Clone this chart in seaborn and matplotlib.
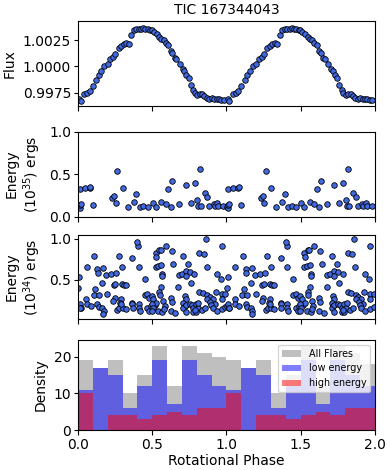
import numpy as np
import pandas as pd
import seaborn as sns
import matplotlib.pyplot as plt
from matplotlib.ticker import FormatStrFormatter

# phase-folded light curve, one rotation (repeated for the second one)
flux_phase = [0.009, 0.020, 0.043, 0.061, 0.079, 0.101, 0.122, 0.140, 0.155, 0.178,
              0.200, 0.218, 0.236, 0.252, 0.274, 0.292, 0.308, 0.326, 0.342, 0.360,
              0.376, 0.391, 0.409, 0.425, 0.438, 0.454, 0.470, 0.488, 0.495, 0.510,
              0.529, 0.546, 0.562, 0.578, 0.591, 0.607, 0.625, 0.636, 0.652, 0.663,
              0.686, 0.704, 0.715, 0.730, 0.746, 0.760, 0.776, 0.787, 0.803, 0.821,
              0.836, 0.850, 0.866, 0.884, 0.899, 0.917, 0.933, 0.949, 0.965, 0.983]
flux_value = [0.99689, 0.99676, 0.99737, 0.99750, 0.99770, 0.99818, 0.99867, 0.99922, 0.99954, 1.00003,
              1.00019, 1.00068, 1.00090, 1.00117, 1.00172, 1.00192, 1.00214, 1.00224, 1.00214, 1.00302,
              1.00343, 1.00353, 1.00350, 1.00353, 1.00360, 1.00353, 1.00350, 1.00343, 1.00343, 1.00328,
              1.00311, 1.00279, 1.00256, 1.00246, 1.00224, 1.00204, 1.00149, 1.00126, 1.00075, 1.00068,
              1.00019, 0.99977, 0.99954, 0.99920, 0.99890, 0.99825, 0.99776, 0.99750, 0.99728, 0.99737,
              0.99734, 0.99721, 0.99705, 0.99695, 0.99705, 0.99695, 0.99689, 0.99689, 0.99686, 0.99679]

# flares with energies in units of 1e35 erg
big_phase = [0.003, 0.011, 0.011, 0.020, 0.011, 0.045, 0.079, 0.083, 0.101, 0.229,
             0.245, 0.254, 0.263, 0.303, 0.335, 0.376, 0.391, 0.416, 0.438, 0.470,
             0.504, 0.522, 0.562, 0.591, 0.607, 0.625, 0.634, 0.679, 0.724, 0.758,
             0.787, 0.803, 0.809, 0.821, 0.825, 0.854, 0.870, 0.883, 0.915, 0.922,
             0.937, 0.944, 0.978]
big_energy = [0.11, 0.10, 0.14, 0.15, 0.32, 0.33, 0.33, 0.35, 0.13, 0.22,
              0.24, 0.16, 0.53, 0.34, 0.11, 0.17, 0.26, 0.11, 0.12, 0.11,
              0.156, 0.108, 0.172, 0.148, 0.328, 0.112, 0.412, 0.144, 0.376, 0.160,
              0.396, 0.192, 0.128, 0.556, 0.12, 0.28, 0.228, 0.12, 0.148, 0.12,
              0.16, 0.12, 0.128]

# flares with energies in units of 1e34 erg
small_phase = [0.002, 0.010, 0.110, 0.060, 0.128, 0.133, 0.169, 0.190, 0.225, 0.259,
               0.274, 0.297, 0.364, 0.405, 0.398, 0.409, 0.448, 0.162, 0.240, 0.252,
               0.293, 0.308, 0.320, 0.117, 0.106, 0.140, 0.196, 0.057, 0.247, 0.236,
               0.290, 0.286, 0.364, 0.448, 0.465, 0.480, 0.005, 0.012, 0.020, 0.016,
               0.060, 0.085, 0.130, 0.140, 0.163, 0.174, 0.170, 0.265, 0.277, 0.300,
               0.290, 0.320, 0.364, 0.370, 0.410, 0.410, 0.415, 0.465, 0.490, 0.480,
               0.861, 0.967, 0.591, 0.524, 0.528, 0.546, 0.556, 0.630, 0.708, 0.816,
               0.848, 0.641, 0.524, 0.540, 0.562, 0.742, 0.866, 0.569, 0.569, 0.680,
               0.697, 0.726, 0.753, 0.782, 0.726, 0.933, 0.962, 0.760, 0.562, 0.674,
               0.816, 0.839, 0.546, 0.551, 0.625, 0.720, 0.726, 0.872, 0.888, 0.906,
               0.929, 0.967, 0.990, 0.495, 0.506, 0.517, 0.528, 0.573, 0.585, 0.630,
               0.710, 0.720, 0.708, 0.726, 0.753, 0.765, 0.776, 0.794, 0.805, 0.810,
               0.776, 0.794, 0.787, 0.495, 0.502, 0.495, 0.540, 0.569, 0.578, 0.625,
               0.654, 0.726, 0.832, 0.855, 0.870, 0.890, 0.920, 0.897, 0.908, 0.935,
               0.967, 0.990, 0.967]
small_energy = [0.40, 0.53, 0.79, 0.66, 0.63, 0.58, 0.64, 0.56, 0.57, 0.58,
                0.79, 0.66, 0.77, 0.91, 0.955, 0.66, 0.51, 0.46, 0.43, 0.45,
                0.45, 0.43, 0.43, 0.38, 0.31, 0.31, 0.32, 0.27, 0.28, 0.24,
                0.26, 0.22, 0.21, 0.31, 0.32, 0.28, 0.18, 0.20, 0.15, 0.16,
                0.20, 0.18, 0.20, 0.17, 0.15, 0.12, 0.08, 0.13, 0.15, 0.16,
                0.20, 0.14, 0.20, 0.15, 0.20, 0.16, 0.12, 0.15, 0.18, 0.12,
                0.995, 0.906, 0.915, 0.83, 0.78, 0.866, 0.866, 0.85, 0.79, 0.82,
                0.81, 0.69, 0.65, 0.67, 0.68, 0.69, 0.65, 0.57, 0.54, 0.56,
                0.57, 0.60, 0.59, 0.57, 0.55, 0.57, 0.51, 0.46, 0.41, 0.41,
                0.35, 0.34, 0.35, 0.31, 0.28, 0.30, 0.27, 0.31, 0.29, 0.27,
                0.35, 0.32, 0.33, 0.30, 0.26, 0.19, 0.21, 0.24, 0.18, 0.23,
                0.22, 0.18, 0.16, 0.19, 0.20, 0.19, 0.16, 0.20, 0.16, 0.22,
                0.11, 0.10, 0.13, 0.20, 0.16, 0.12, 0.12, 0.11, 0.14, 0.12,
                0.09, 0.11, 0.13, 0.15, 0.26, 0.23, 0.20, 0.19, 0.16, 0.12,
                0.14, 0.17, 0.26]

# flare counts per 0.1 phase bin, 0 -> 2
bin_left = [0.0, 0.1, 0.2, 0.3, 0.4, 0.5, 0.6, 0.7, 0.8, 0.9,
            1.0, 1.1, 1.2, 1.3, 1.4, 1.5, 1.6, 1.7, 1.8, 1.9]
all_counts = [19, 17, 19, 10, 15, 23, 12, 23, 21, 20, 19, 17, 19, 10, 15, 23, 12, 23, 21, 18]
low_counts = [11, 17, 15, 6, 12, 19, 7, 19, 15, 12, 11, 17, 15, 6, 12, 19, 7, 19, 15, 12]
high_counts = [10, 0, 4, 4, 3, 4, 5, 4, 6, 6, 10, 0, 4, 4, 3, 4, 5, 4, 6, 6]


def two_cycles(phase, values):
    phase = np.asarray(phase)
    return pd.DataFrame({"phase": np.concatenate([phase, phase + 1]),
                         "value": np.concatenate([values, values])})


lc = two_cycles(flux_phase, flux_value)
big = two_cycles(big_phase, big_energy)
small = two_cycles(small_phase, small_energy)
hist = pd.DataFrame({"center": np.array(bin_left) + 0.05, "n_all": all_counts,
                     "n_low": low_counts, "n_high": high_counts})

fig = plt.figure(figsize=(3.9, 4.7), dpi=100)
W = 390.0
H = 470.0
boxes = [(21, 106), (131.5, 216.5), (235, 319), (340, 430)]
axes = []
for top, bot in boxes:
    ax = fig.add_axes([78 / W, 1 - bot / H, (375 - 78) / W, (bot - top) / H])
    axes.append(ax)
ax1, ax2, ax3, ax4 = axes

pt = dict(color="royalblue", edgecolor="black", linewidth=0.6, s=16)

sns.scatterplot(data=lc, x="phase", y="value", ax=ax1, **pt)
ax1.set_ylim(0.99625, 1.0043)
ax1.set_yticks([0.9975, 1.0, 1.0025])
ax1.yaxis.set_major_formatter(FormatStrFormatter("%.4f"))
ax1.set_ylabel("Flux")
ax1.yaxis.set_label_coords(-0.205, 0.5)
ax1.set_title("TIC 167344043", fontsize=10, pad=5)

sns.scatterplot(data=big, x="phase", y="value", ax=ax2, **pt)
ax2.set_ylim(0, 1)
ax2.set_yticks([0.0, 0.5, 1.0])
ax2.set_ylabel("Energy\n($10^{35}$) ergs")
ax2.yaxis.set_label_coords(-0.118, 0.5)

sns.scatterplot(data=small, x="phase", y="value", ax=ax3, **pt)
ax3.set_ylim(0.02, 1.045)
ax3.set_yticks([0.5, 1.0])
ax3.set_ylabel("Energy\n($10^{34}$) ergs")
ax3.yaxis.set_label_coords(-0.118, 0.5)

hk = dict(x="center", binwidth=0.1, binrange=(0, 2), ax=ax4, alpha=0.5, linewidth=0)
sns.histplot(data=hist, weights="n_all", color="grey", label="All Flares", **hk)
sns.histplot(data=hist, weights="n_low", color="blue", label="low energy", **hk)
sns.histplot(data=hist, weights="n_high", color="red", label="high energy", **hk)
ax4.set_ylim(0, 24.5)
ax4.set_yticks([0, 10, 20])
ax4.set_ylabel("Density")
ax4.yaxis.set_label_coords(-0.101, 0.5)
ax4.set_xlabel("Rotational Phase")
ax4.xaxis.set_label_coords(0.5, -0.265)
ax4.legend(loc="upper right", fontsize="x-small")

for ax in axes:
    ax.set_xlim(0, 2)
    ax.set_xticks([0.0, 0.5, 1.0, 1.5, 2.0])
    ax.tick_params(axis="y", pad=2, length=3)
    ax.tick_params(axis="x", pad=2, length=3.5)
for ax in axes[:3]:
    ax.set_xlabel("")
    ax.tick_params(labelbottom=False)

fig.savefig("out.png", dpi=100)
